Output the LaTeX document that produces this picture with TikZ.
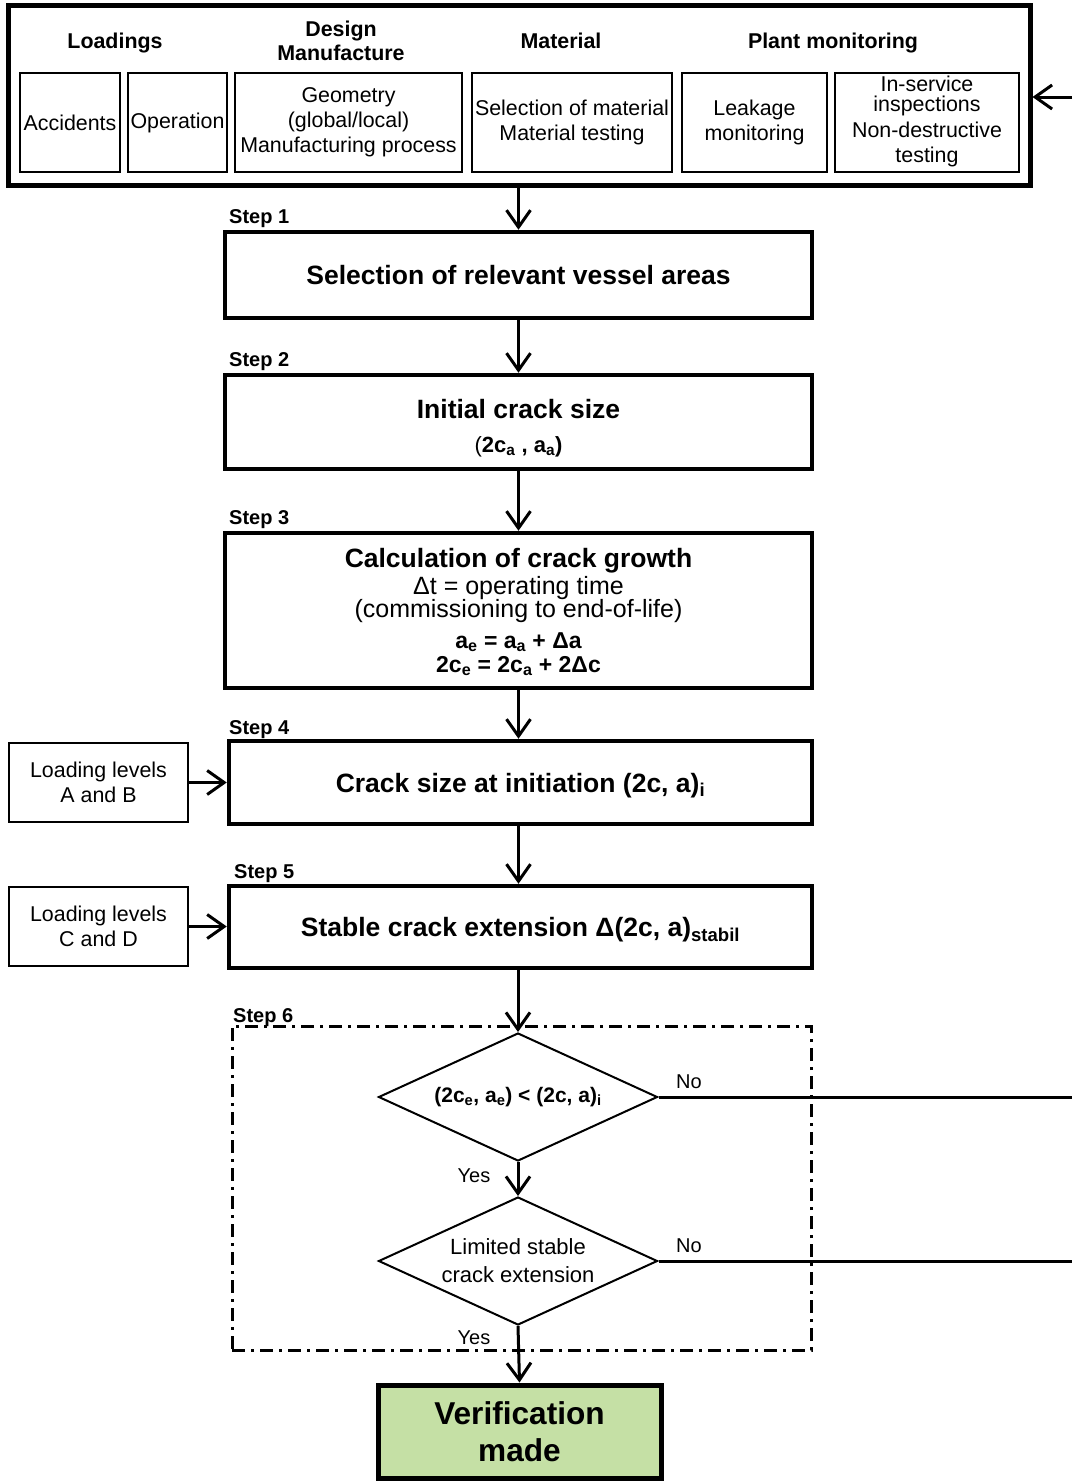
\documentclass[tikz,border=0pt]{standalone}
\usepackage{fontspec}
\setmainfont{Liberation Sans}
\usetikzlibrary{arrows.meta,shapes.geometric}

\definecolor{okgreen}{RGB}{197,224,165}

% font sizes (1pt = 1 unit of the picture)
\newcommand\fReg{\fontsize{21.4pt}{25pt}\selectfont}
\newcommand\fHead{\bfseries\fontsize{21.4pt}{24pt}\selectfont}
\newcommand\fTitle{\bfseries\fontsize{26.5pt}{30pt}\selectfont}
\newcommand\fSub{\fontsize{25pt}{28pt}\selectfont}
\newcommand\fEq{\bfseries\fontsize{23pt}{26pt}\selectfont}
\newcommand\fStep{\bfseries\fontsize{20pt}{22pt}\selectfont}
\newcommand\fLbl{\fontsize{20pt}{22pt}\selectfont}
\newcommand\fBig{\bfseries\fontsize{31.6pt}{37pt}\selectfont}

\begin{document}
\begin{tikzpicture}[x=1pt,y=-1pt,
  frame/.style={draw, line width=5pt, inner sep=0pt},
  stepbox/.style={draw, line width=4.5pt, inner sep=0pt, align=center, font=\fTitle,
    text height=19pt, text depth=0pt},
  itembox/.style={draw, line width=2pt, inner sep=0pt, align=center, font=\fReg},
  head/.style={inner sep=0pt, align=center, font=\fHead, anchor=base},
  steplbl/.style={inner sep=0pt, font=\fStep, anchor=base west},
  txt/.style={inner sep=0pt, anchor=base},
  decision/.style={diamond, draw, line width=2pt, inner sep=0pt, aspect=2.2,
    minimum width=279pt, minimum height=128pt, align=center},
  conn/.style={line width=3pt, -{Straight Barb[length=17pt,width=24pt]}},
  plain/.style={line width=3pt},
  yn/.style={inner sep=0pt, font=\fLbl},
]
\fill[white] (0,0) rectangle (1072,1481);
\useasboundingbox (0,0) rectangle (1072,1481);

% ---------- input data ----------
\node[frame, minimum width=1022pt, minimum height=180pt] (inputs) at (519,95) {};
\node[head] (hLoad) at (115,48.7) {Loadings};
\node[head] (hDesA) at (341,36.5) {Design};
\node[head] (hDesB) at (341,60.5) {Manufacture};
\node[head] (hMat) at (561,48.7) {Material};
\node[head] (hPlant) at (833,48.7) {Plant monitoring};

\node[itembox, minimum width=100pt, minimum height=99pt] (bAcc) at (70,122.5) {Accidents};
\node[itembox, minimum width=99pt, minimum height=99pt] (bOpe) at (177.5,122.5) {Operation};
\node[itembox, minimum width=227pt, minimum height=99pt] (bGeo) at (348.5,122.5)
  {Geometry\\(global/local)\\Manufacturing process};
\node[itembox, minimum width=200pt, minimum height=99pt] (bMat) at (572,122.5)
  {Selection of material\\Material testing};
\node[itembox, minimum width=145pt, minimum height=99pt] (bLeak) at (754.5,122.5)
  {Leakage\\monitoring};
\node[itembox, minimum width=184pt, minimum height=99pt] (bIsi) at (927,122.5) {};
\node[txt, font=\fReg] (tIsiA) at (927,91) {In-service};
\node[txt, font=\fReg] (tIsiB) at (927,111) {inspections};
\node[txt, font=\fReg] (tIsiC) at (927,137) {Non-destructive};
\node[txt, font=\fReg] (tIsiD) at (927,162.5) {testing};

% ---------- steps ----------
\node[steplbl] (l1) at (229,223) {Step 1};
\node[stepbox, minimum width=587pt, minimum height=86pt] (s1) at (518.5,275)
  {Selection of relevant vessel areas};

\node[steplbl] (l2) at (229,366) {Step 2};
\node[stepbox, minimum width=587pt, minimum height=94pt] (s2) at (518.5,422) {};
\node[txt, font=\fTitle] (t2a) at (518.5,418.5) {Initial crack size};
\node[txt, font=\fontsize{22pt}{26pt}\selectfont] (t2b) at (518.5,452)
  {(\textbf{2c\textsubscript{a} , a\textsubscript{a})}};

\node[steplbl] (l3) at (229,524) {Step 3};
\node[stepbox, minimum width=587pt, minimum height=155pt] (s3) at (518.5,610.5) {};
\node[txt, font=\fTitle] (t3a) at (518.5,567) {Calculation of crack growth};
\node[txt, font=\fSub] (t3b) at (518.5,594) {Δt = operating time};
\node[txt, font=\fSub] (t3c) at (518.5,617) {(commissioning to end-of-life)};
\node[txt, font=\fEq] (t3d) at (518.5,648)
  {a\textsubscript{e} = a\textsubscript{a} + Δa};
\node[txt, font=\fEq] (t3e) at (518.5,672)
  {2c\textsubscript{e} = 2c\textsubscript{a} + 2Δc};

\node[steplbl] (l4) at (229,734) {Step 4};
\node[stepbox, minimum width=583pt, minimum height=83pt] (s4) at (520.5,782.5)
  {Crack size at initiation (2c, a)\textsubscript{i}};
\node[itembox, minimum width=179pt, minimum height=79pt] (lvAB) at (98.5,782.5)
  {Loading levels\\A and B};

\node[steplbl] (l5) at (234,878) {Step 5};
\node[stepbox, minimum width=583pt, minimum height=82pt] (s5) at (520.5,927)
  {Stable crack extension Δ(2c, a)\textsubscript{stabil}};
\node[itembox, minimum width=179pt, minimum height=79pt] (lvCD) at (98.5,926.5)
  {Loading levels\\C and D};

% ---------- step 6: decisions ----------
\node[draw, line width=3pt, dash pattern=on 13pt off 6pt on 3pt off 6pt,
  minimum width=579pt, minimum height=324pt, inner sep=0pt] (step6) at (521.5,1188) {};
\node[steplbl] (l6) at (233,1022) {Step 6};

\node[decision, font=\bfseries\fontsize{21pt}{24pt}\selectfont] (d1) at (518,1097)
  {(2c\textsubscript{e}, a\textsubscript{e}) < (2c, a)\textsubscript{i}};
\node[decision, font=\fontsize{22pt}{28pt}\selectfont] (d2) at (518,1261)
  {Limited stable\\crack extension};

\node[draw, line width=5pt, fill=okgreen, inner sep=0pt, minimum width=283pt,
  minimum height=93pt, align=center, font=\fBig] (done) at (519.5,1431.5)
  {Verification\\made};

\node[yn] (no1) at (689,1082) {No};
\node[yn] (no2) at (689,1246) {No};
\node[yn] (yes1) at (474,1176) {Yes};
\node[yn] (yes2) at (474,1338) {Yes};

% ---------- connectors ----------
\coordinate (fbIn) at (1072,97);
\coordinate (fb1) at (1072,1097);
\coordinate (fb2) at (1072,1261);

\draw[conn] (fbIn) -- (fbIn -| inputs.east);
\draw[conn] (inputs.south -| s1.north) -- (s1.north);
\draw[conn] (s1.south) -- (s2.north);
\draw[conn] (s2.south) -- (s3.north);
\draw[conn] (s3.south) -- (s3.south |- s4.north);
\draw[conn] (s4.south -| s3.south) -- (s3.south |- s5.north);
\draw[conn] (lvAB.east) -- (lvAB.east -| s4.west);
\draw[conn] (lvCD.east) -- (lvCD.east -| s5.west);
\draw[conn] (s5.south -| d1.north) -- (d1.north);
\draw[conn] (d1.south) -- (d2.north);
\draw[conn] (d2.south) -- (done.north);
\draw[plain] (d1.east) -- (fb1);
\draw[plain] (d2.east) -- (fb2);
\end{tikzpicture}
\end{document}
